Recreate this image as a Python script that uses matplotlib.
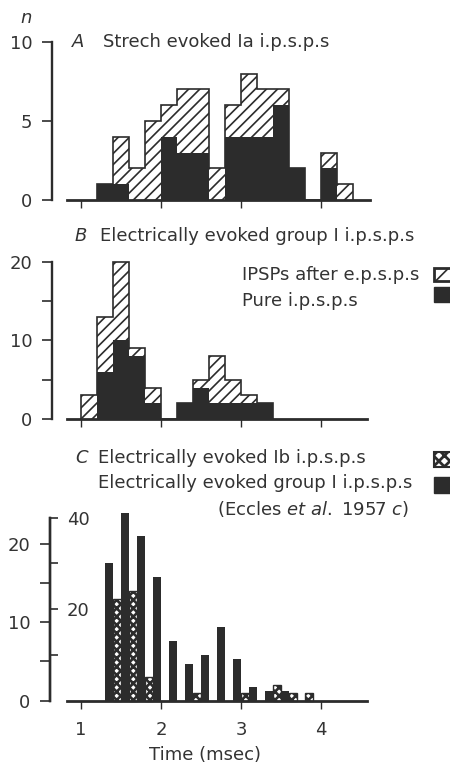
import matplotlib
matplotlib.use("Agg")
import matplotlib.pyplot as plt
from matplotlib.patches import Rectangle

# ---- data ----
# A: stretch evoked Ia ipsps, bins of 0.2 msec
edges_a = [1.2, 1.4, 1.6, 1.8, 2.0, 2.2, 2.4, 2.6, 2.8, 3.0, 3.2, 3.4, 3.6, 3.8, 4.0, 4.2, 4.4]
total_a = [1, 4, 2, 5, 6, 7, 7, 2, 6, 8, 7, 7, 2, 0, 3, 1]
pure_a = [1, 1, 0, 0, 4, 3, 3, 0, 4, 4, 4, 6, 2, 0, 2, 0]

# B: electrically evoked group I ipsps
edges_b = [1.0, 1.2, 1.4, 1.6, 1.8, 2.0, 2.2, 2.4, 2.6, 2.8, 3.0, 3.2, 3.4]
total_b = [3, 13, 20, 9, 4, 0, 2, 5, 8, 5, 3, 2]
pure_b = [0, 6, 10, 8, 2, 0, 2, 4, 2, 2, 2, 2]

# C: Ib ipsps (left scale) and Eccles et al. group I ipsps (inner scale)
ib_left = [1.4, 1.6, 1.8, 2.4, 3.0, 3.4, 3.6, 3.8]
ib_n = [13, 14, 3, 1, 1, 2, 1, 1]
grp_left = [1.3, 1.5, 1.7, 1.9, 2.1, 2.3, 2.5, 2.7, 2.9, 3.1, 3.3, 3.5]
grp_n = [30, 43, 36, 27, 13, 8, 10, 16, 9, 3, 2, 2]

dark = '#2c2c2c'
txt = '#333333'

plt.rcParams['font.family'] = ['DejaVu Sans']
plt.rcParams['mathtext.fontset'] = 'custom'
plt.rcParams['mathtext.rm'] = 'DejaVu Sans'
plt.rcParams['mathtext.it'] = 'DejaVu Sans:italic'
plt.rcParams['hatch.color'] = dark
plt.rcParams['hatch.linewidth'] = 1.2
fs = 13

W, H = 450, 766
fig = plt.figure(figsize=(W / 100, H / 100), dpi=100)


def rect(y_top, y_bot, x0=41, x1=450):
    return [x0 / W, 1 - y_bot / H, (x1 - x0) / W, (y_bot - y_top) / H]


def ftext(x, y, s, **kw):
    fig.text(x / W, 1 - y / H, s, fontsize=fs, color=txt, va='baseline', **kw)


XLIM = (0.5, 5.6125)


def style(ax, spine_x, ybounds, xbounds, yticks, ylabels):
    ax.set_xlim(*XLIM)
    ax.set_facecolor('none')
    for s in ['top', 'right']:
        ax.spines[s].set_visible(False)
    ax.spines['left'].set_position(('data', spine_x))
    ax.spines['left'].set_bounds(*ybounds)
    ax.spines['bottom'].set_position(('data', 0))
    ax.spines['bottom'].set_bounds(*xbounds)
    ax.spines['left'].set_linewidth(1.7)
    ax.spines['bottom'].set_linewidth(2.0)
    ax.spines['left'].set_color(dark)
    ax.spines['bottom'].set_color(dark)
    ax.set_yticks(yticks)
    ax.set_yticklabels(ylabels)
    ax.set_xticks([1, 2, 3, 4])
    ax.tick_params(axis='y', length=7.2, width=1.2, color=dark, pad=7,
                   labelsize=fs, labelcolor=txt)
    ax.tick_params(axis='x', length=5.8, width=1.0, color=dark, pad=9,
                   labelsize=fs, labelcolor=txt)


def stacked(ax, edges, total, pure):
    lefts = edges[:-1]
    w = [edges[i + 1] - edges[i] for i in range(len(lefts))]
    ax.bar(lefts, pure, width=w, align='edge', color=dark, linewidth=0)
    extra = [t - p for t, p in zip(total, pure)]
    ax.bar(lefts, extra, width=w, bottom=pure, align='edge', color='white',
           hatch='///', linewidth=0)
    ax.stairs(total, edges, baseline=0, color=dark, linewidth=1.2)


# ---- A ----
axA = fig.add_axes(rect(200 - 15.8 * 12, 200 + 15.8 * 1.5))
axA.set_ylim(-1.5, 12)
stacked(axA, edges_a, total_a, pure_a)
style(axA, 0.6375, (0, 10), (0.825, 4.61), [0, 5, 10], ['0', '5', '10'])
axA.set_xticklabels([])
ftext(20, 23, 'n', style='italic')
ftext(72, 47, 'A', style='italic')
ftext(103, 47, 'Strech evoked Ia i.p.s.p.s')

# ---- B ----
axB = fig.add_axes(rect(419 - 7.85 * 25, 419 + 7.85 * 3))
axB.set_ylim(-3, 25)
stacked(axB, edges_b, total_b, pure_b)
style(axB, 0.6375, (0, 20), (0.825, 4.575), [0, 5, 10, 15, 20], ['0', '', '10', '', '20'])
axB.set_xticklabels([])
ftext(75, 241, 'B', style='italic')
ftext(100, 241, 'Electrically evoked group I i.p.s.p.s')
ftext(242, 280, 'IPSPs after e.p.s.p.s')
ftext(242, 306, 'Pure i.p.s.p.s')
fig.add_artist(Rectangle((434 / W, 1 - 281 / H), 18 / W, 13 / H, transform=fig.transFigure,
                         facecolor='white', edgecolor=dark, linewidth=2.0, hatch='//'))
fig.add_artist(Rectangle((434 / W, 1 - 302 / H), 18 / W, 15 / H, transform=fig.transFigure,
                         facecolor=dark, edgecolor=dark, linewidth=1.0))

# ---- C ----
sc_out = 7.83
sc_in = 4.57
r = sc_out / sc_in
axC = fig.add_axes(rect(700.5 - sc_out * 24, 700.5 + sc_out * 3))
axC.set_ylim(-3, 24)
axC2 = axC.twinx()
axC2.set_ylim(-3 * r, 24 * r)
axC2.set_xlim(*XLIM)

bars = axC.bar(ib_left, ib_n, width=0.095, align='edge', facecolor='white',
               edgecolor=dark, linewidth=1.0, hatch='xxxx')
for b in bars:
    if hasattr(b, 'set_hatch_linewidth'):
        b.set_hatch_linewidth(1.9)
axC2.bar(grp_left, grp_n, width=0.1, align='edge', color=dark, linewidth=0)

style(axC, 0.6125, (0, 40 / r), (0.825, 4.575), [0, 5, 10, 15, 20], ['0', '', '10', '', '20'])
axC.set_xticklabels(['1', '2', '3', '4'])

for s in ['top', 'left', 'bottom']:
    axC2.spines[s].set_visible(False)
axC2.spines['right'].set_position(('data', 0.6125))
axC2.spines['right'].set_bounds(0, 40)
axC2.spines['right'].set_linewidth(1.7)
axC2.spines['right'].set_color(dark)
axC2.set_yticks([10, 20, 30, 40])
axC2.set_yticklabels(['', '20', '', '40'])
axC2.tick_params(axis='y', length=6, width=1.2, color=dark, pad=6,
                 labelsize=fs, labelcolor=txt)
axC.set_zorder(2)
axC2.set_zorder(1)

ftext(75, 463, 'C', style='italic')
ftext(98, 463, 'Electrically evoked Ib i.p.s.p.s')
ftext(98, 488, 'Electrically evoked group I i.p.s.p.s')
ftext(217, 515, r'(Eccles $\mathit{et\ al.}$ 1957 $\mathit{c}$)')
pc = Rectangle((434 / W, 1 - 467 / H), 18 / W, 15 / H, transform=fig.transFigure,
               facecolor='white', edgecolor=dark, linewidth=1.5, hatch='xxx')
if hasattr(pc, 'set_hatch_linewidth'):
    pc.set_hatch_linewidth(2.0)
fig.add_artist(pc)
fig.add_artist(Rectangle((434 / W, 1 - 493 / H), 18 / W, 16 / H, transform=fig.transFigure,
                         facecolor=dark, edgecolor=dark, linewidth=1.0))
fig.text(205 / W, 1 - 760 / H, 'Time (msec)', fontsize=fs, color=txt, ha='center', va='baseline')

fig.savefig('out.png', dpi=100)
